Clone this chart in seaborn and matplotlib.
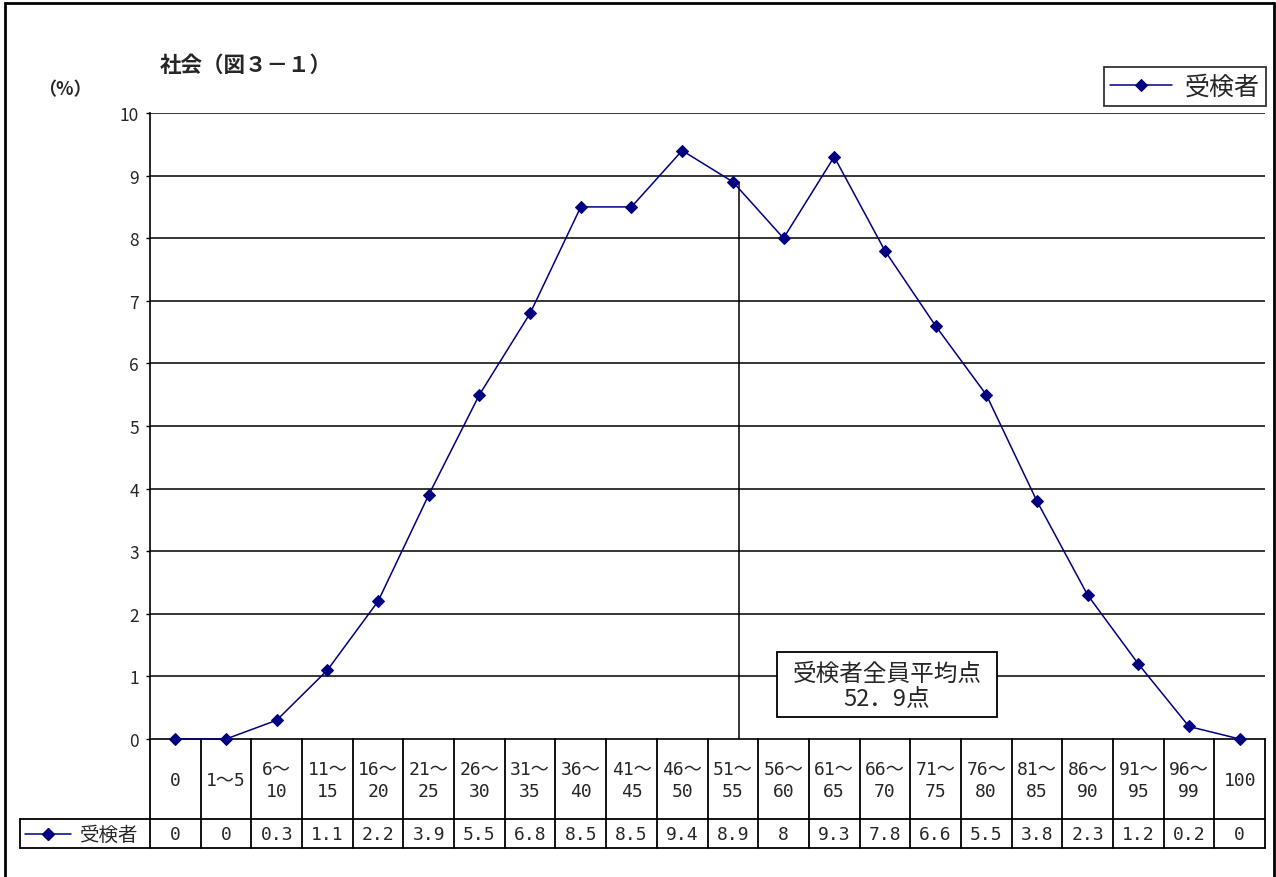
import matplotlib
matplotlib.use("Agg")
import matplotlib.pyplot as plt
import matplotlib.patches as mpatches
from matplotlib.lines import Line2D
import seaborn as sns
import pandas as pd

# Score bands (点数区分) and share of examinees (%) in each band
categories = ["0", "1～5", "6～\n10", "11～\n15", "16～\n20", "21～\n25",
              "26～\n30", "31～\n35", "36～\n40", "41～\n45", "46～\n50",
              "51～\n55", "56～\n60", "61～\n65", "66～\n70", "71～\n75",
              "76～\n80", "81～\n85", "86～\n90", "91～\n95", "96～\n99", "100"]
examinees = [0, 0, 0.3, 1.1, 2.2, 3.9, 5.5, 6.8, 8.5, 8.5, 9.4,
             8.9, 8, 9.3, 7.8, 6.6, 5.5, 3.8, 2.3, 1.2, 0.2, 0]
series_name = "受検者"
mean_score = 52.9
title = "社会（図３－１）"
y_unit = "（%）"
y_ticks = list(range(0, 11))

sns.set_theme(style="white")
FONT = ["Noto Sans CJK JP", "DejaVu Sans"]
MONO = ["DejaVu Sans Mono", "Noto Sans CJK JP"]
plt.rcParams["font.family"] = FONT

W, H = 1276, 878
fig = plt.figure(figsize=(W / 100, H / 100), dpi=100)
fig.patch.set_facecolor("white")


def fx(px):
    return px / W


def fy(py):
    return 1 - py / H


# plot area in pixels
L, R, T, B = 150, 1265, 114, 740
ax = fig.add_axes([fx(L), fy(B), fx(R) - fx(L), (B - T) / H])

df = pd.DataFrame({"idx": range(len(categories)), "value": examinees})
NAVY = "#000080"
sns.lineplot(data=df, x="idx", y="value", ax=ax, color=NAVY, marker="D",
             markersize=6.5, markeredgecolor=NAVY, linewidth=1.1,
             label=series_name, zorder=5, clip_on=False)

n = len(categories)
ax.set_xlim(-0.5, n - 0.5)
ax.set_ylim(0, 10)
ax.set_xlabel("")
ax.set_ylabel("")
ax.set_xticks([])
ax.set_yticks(y_ticks)
ax.set_yticklabels([str(t) for t in y_ticks], fontsize=12.5)
ax.tick_params(axis="y", length=3, width=1, color="black", pad=5, left=True)
for s in ["top", "right"]:
    ax.spines[s].set_visible(False)
for s in ["left", "bottom"]:
    ax.spines[s].set_color("black")
    ax.spines[s].set_linewidth(1.2)
for t in y_ticks[1:]:
    ax.axhline(t, color="black", linewidth=1.1, zorder=1)

# average line
mean_x = 11.12
ax.plot([mean_x, mean_x], [0, examinees[11]], color="black", linewidth=1.1, zorder=2)

# average score box
bx0, bx1, by0, by1 = 777, 997, 653, 718
fig.add_artist(mpatches.Rectangle((fx(bx0), fy(by1)), fx(bx1) - fx(bx0),
                                  (by1 - by0) / H, transform=fig.transFigure,
                                  facecolor="white", edgecolor="black",
                                  linewidth=1.3, zorder=6))
fig.text(fx((bx0 + bx1) / 2), fy((by0 + by1) / 2 + 1),
         f"受検者全員平均点\n{str(mean_score).replace('.', '．')}点",
         ha="center", va="center", fontsize=17, linespacing=1.05, zorder=7)

# legend
leg = ax.legend(loc="upper right", bbox_to_anchor=(fx(1266), fy(68)),
                bbox_transform=fig.transFigure, frameon=True, fancybox=False,
                fontsize=18, handlelength=2.5, borderpad=0.25,
                handletextpad=0.5, borderaxespad=0)
leg.get_frame().set_edgecolor("black")
leg.get_frame().set_linewidth(1.3)

# data table below the axis
lw = 1.3
row1_top, row1_bot, row2_bot = 740, 820, 849
col_w = (R - L) / n
for i in range(n + 1):
    x = L + i * col_w
    fig.add_artist(Line2D([fx(x), fx(x)], [fy(row1_top), fy(row2_bot)],
                          color="black", linewidth=lw))
for yy in (row1_bot, row2_bot):
    fig.add_artist(Line2D([fx(20), fx(R)], [fy(yy), fy(yy)],
                          color="black", linewidth=lw))
fig.add_artist(Line2D([fx(20), fx(20)], [fy(row1_bot), fy(row2_bot)],
                      color="black", linewidth=lw))

for i, (cat, v) in enumerate(zip(categories, examinees)):
    cx = L + (i + 0.5) * col_w
    fig.text(fx(cx), fy((row1_top + row1_bot) / 2 + 1), cat, ha="center",
             va="center", fontsize=13, linespacing=1.3, family=MONO)
    fig.text(fx(cx), fy((row1_bot + row2_bot) / 2 + 1), f"{v:g}",
             ha="center", va="center", fontsize=13, family=MONO)

# legend key inside the table header cell
mid_y = fy((row1_bot + row2_bot) / 2)
fig.add_artist(Line2D([fx(25), fx(71)], [mid_y, mid_y], color=NAVY, linewidth=1.1))
fig.add_artist(Line2D([fx(48)], [mid_y], color=NAVY, marker="D", markersize=6.5,
                      markeredgecolor=NAVY))
fig.text(fx(79), fy((row1_bot + row2_bot) / 2 + 1), series_name,
         ha="left", va="center", fontsize=14)

# titles
fig.text(fx(160), fy(65), title, ha="left", va="center", fontsize=15.5,
         fontweight="bold")
fig.text(fx(65), fy(90), y_unit, ha="center", va="center", fontsize=13,
         fontweight="bold")

# outer chart frame
fig.add_artist(mpatches.Rectangle((fx(5), fy(H + 20)), fx(1274) - fx(5),
                                  (H + 20 - 4) / H, transform=fig.transFigure,
                                  fill=False, edgecolor="black", linewidth=2,
                                  clip_on=False))

fig.savefig("out.png", dpi=100, facecolor="white")
